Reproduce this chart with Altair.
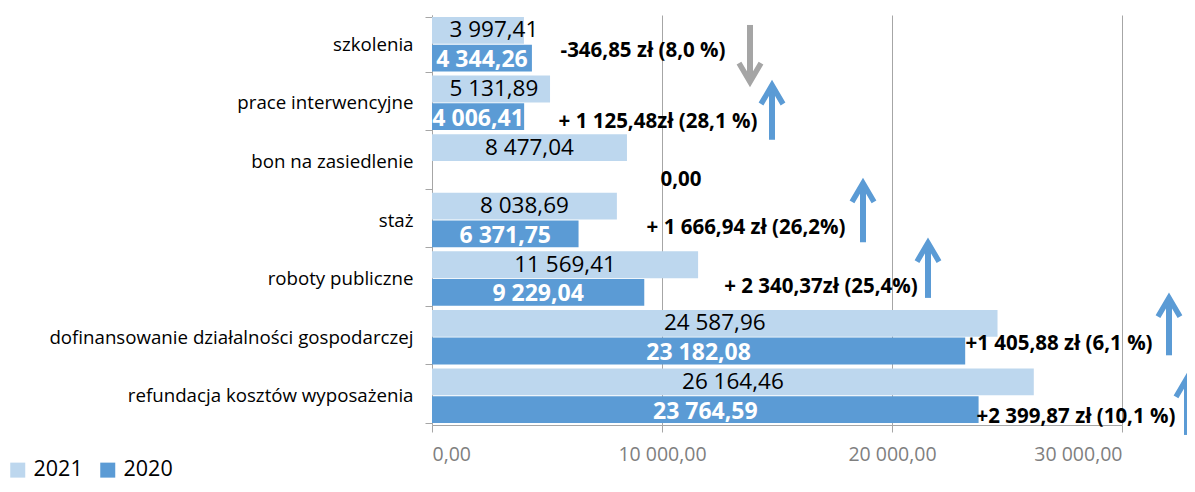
import altair as alt
import pandas as pd

categories = [
    "szkolenia",
    "prace interwencyjne",
    "bon na zasiedlenie",
    "staż",
    "roboty publiczne",
    "dofinansowanie działalności gospodarczej",
    "refundacja kosztów wyposażenia",
]
values_2021 = [3997.41, 5131.89, 8477.04, 8038.69, 11569.41, 24587.96, 26164.46]
values_2020 = [4344.26, 4006.41, None, 6371.75, 9229.04, 23182.08, 23764.59]
years = ["2021", "2020"]

# annotation texts and their positions (x in value units, y in category-index units)
ann_text = [
    "-346,85 zł (8,0 %)",
    "+ 1 125,48zł (28,1 %)",
    "0,00",
    "+ 1 666,94 zł (26,2%)",
    "+ 2 340,37zł (25,4%)",
    "+1 405,88 zł (6,1 %)",
    "+2 399,87 zł (10,1 %)",
]
ann_x = [9174, 9826, 10826, 13652, 16913, 27261, 28000]
ann_y = [0.62, 1.83, 2.82, 3.64, 4.64, 5.62, 6.86]

# arrows
arrow_dir = ["down", "up", "up", "up", "up", "up"]
arrow_x = [13826, 14783, 18739, 21565, 32043, 32826]
arrow_top = [0.17, 1.20, 2.87, 3.89, 4.83, 6.20]
arrow_bottom = [1.14, 2.13, 3.88, 4.83, 5.81, 7.17]

LIGHT = "#BDD7EE"
DARK = "#5B9BD5"
GRAY = "#A5A5A5"
AXIS_GRAY = "#A6A6A6"
FONT = "Open Sans"


def fmt(v):
    return f"{v:,.2f}".replace(",", " ").replace(".", ",")


rows = []
for c, v21, v20 in zip(categories, values_2021, values_2020):
    if v21 is not None:
        rows.append({"category": c, "year": "2021", "value": v21, "label": fmt(v21)})
    if v20 is not None:
        rows.append({"category": c, "year": "2020", "value": v20, "label": fmt(v20)})
df = pd.DataFrame(rows)

df_ann = pd.DataFrame({"text": ann_text, "ax": ann_x, "ay": ann_y})
df_arr = pd.DataFrame({"dir": arrow_dir, "ax": arrow_x, "top": arrow_top, "bot": arrow_bottom})

xscale = alt.Scale(domain=[0, 30000], nice=False, zero=True)
x_axis = alt.Axis(
    values=[0, 10000, 20000, 30000],
    labelExpr="replace(replace(format(datum.value, ',.2f'), ',', ' '), '.', ',')",
    title=None,
    grid=True,
    gridColor=AXIS_GRAY,
    domainColor=AXIS_GRAY,
    tickColor=AXIS_GRAY,
    tickSize=7,
    labelColor="#7F7F7F",
    labelFontSize=19.5,
    labelFont=FONT,
    labelPadding=13,
)
yband = alt.Scale(paddingInner=0.07, paddingOuter=0.035)
y_axis = alt.Axis(
    title=None,
    tickBand="extent",
    tickSize=7,
    domainColor=AXIS_GRAY,
    tickColor=AXIS_GRAY,
    labelFontSize=18.7,
    labelFont=FONT,
    labelColor="black",
    labelPadding=12,
    labelLimit=0,
)
yoff = alt.YOffset("year:N", sort=years, scale=alt.Scale(domain=years, paddingInner=0.03))

base = alt.Chart(df)
bars = base.mark_bar().encode(
    y=alt.Y("category:N", sort=categories, scale=yband, axis=y_axis),
    x=alt.X("value:Q", scale=xscale, axis=x_axis),
    yOffset=yoff,
    color=alt.Color(
        "year:N",
        sort=years,
        scale=alt.Scale(domain=years, range=[LIGHT, DARK]),
        legend=alt.Legend(
            orient="none",
            legendX=-425,
            legendY=444,
            direction="horizontal",
            title=None,
            symbolType="square",
            symbolSize=225,
            symbolStrokeWidth=0,
            labelFontSize=21.5,
            labelFont=FONT,
            labelColor="black",
            columnPadding=14,
            labelOffset=5,
        ),
    ),
)

# label centre stays at least a label's half-width away from the axis (as in the source)
t21 = base.transform_filter("datum.year == '2021'").transform_calculate(
    mid="max(datum.value / 2, 2690)"
).mark_text(font=FONT, fontSize=22.5, color="black", align="center", baseline="middle").encode(
    y=alt.Y("category:N", sort=categories, scale=yband, axis=y_axis),
    x=alt.X("mid:Q", scale=xscale, axis=x_axis),
    yOffset=yoff,
    text="label:N",
)
t20 = base.transform_filter("datum.year == '2020'").transform_calculate(
    mid="datum.value / 2"
).mark_text(
    font=FONT, fontSize=23, fontWeight="bold", color="white", align="center", baseline="middle", dy=2
).encode(
    y=alt.Y("category:N", sort=categories, scale=yband, axis=y_axis),
    x=alt.X("mid:Q", scale=xscale, axis=x_axis),
    yOffset=yoff,
    text="label:N",
)

bar_layer = alt.layer(bars, t21, t20)

yq = alt.Scale(domain=[0, 7], reverse=True, nice=False, zero=False)

ann = alt.Chart(df_ann).mark_text(
    font=FONT, fontSize=20.5, fontWeight="bold", color="black", align="center", baseline="middle"
).encode(
    x=alt.X("ax:Q", scale=xscale, axis=x_axis),
    y=alt.Y("ay:Q", scale=yq, axis=None),
    text="text:N",
)

arr_base = alt.Chart(df_arr)
shafts = arr_base.mark_rule(strokeWidth=6).encode(
    x=alt.X("ax:Q", scale=xscale, axis=x_axis),
    y=alt.Y("top:Q", scale=yq, axis=None),
    y2="bot:Q",
    color=alt.condition("datum.dir == 'down'", alt.value(GRAY), alt.value(DARK)),
)
UP = "M -1 1.7 L 0 0 L 1 1.7"
DOWN = "M -1 -1.7 L 0 0 L 1 -1.7"
heads_up = arr_base.transform_filter("datum.dir == 'up'").mark_point(
    shape=UP, filled=False, size=484, strokeWidth=5.5, opacity=1, color=DARK, strokeJoin="miter"
).encode(
    x=alt.X("ax:Q", scale=xscale, axis=x_axis),
    y=alt.Y("top:Q", scale=yq, axis=None),
)
heads_down = arr_base.transform_filter("datum.dir == 'down'").mark_point(
    shape=DOWN, filled=False, size=484, strokeWidth=5.5, opacity=1, color=GRAY, strokeJoin="miter"
).encode(
    x=alt.X("ax:Q", scale=xscale, axis=x_axis),
    y=alt.Y("bot:Q", scale=yq, axis=None),
)

ann_layer = alt.layer(ann, shafts, heads_up, heads_down)

chart = (
    alt.layer(bar_layer, ann_layer)
    .resolve_scale(y="independent")
    .properties(
        width=690,
        height=410,
        autosize=alt.AutoSizeParams(type="none"),
        padding={"left": 424, "top": 7, "right": 65, "bottom": 59},
    )
    .configure_view(stroke=None)
)

chart.save("out.html", embed_options={"renderer": "svg", "actions": False})
